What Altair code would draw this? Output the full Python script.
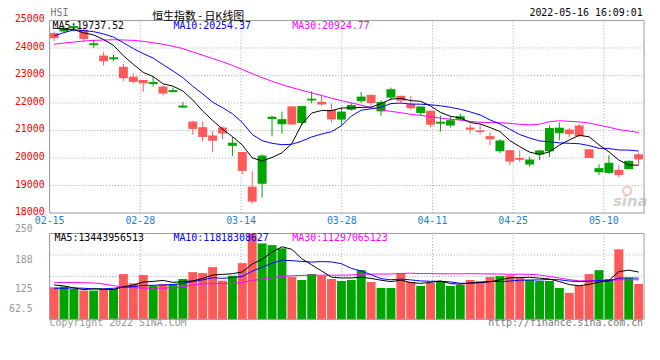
import altair as alt
import pandas as pd

# ---------------- data ----------------
dates = ["02-15","02-16","02-17","02-18","02-21","02-22","02-23","02-24","02-25","02-28",
         "03-01","03-02","03-03","03-04","03-07","03-08","03-09","03-10","03-11","03-14",
         "03-15","03-16","03-17","03-18","03-21","03-22","03-23","03-24","03-25","03-28",
         "03-29","03-30","03-31","04-01","04-04","04-06","04-07","04-08","04-11","04-12",
         "04-13","04-14","04-19","04-20","04-21","04-22","04-25","04-26","04-27","04-28",
         "04-29","05-03","05-04","05-05","05-06","05-10","05-11","05-12","05-13","05-16"]

opens = [24540,24600,24720,24660,24100,23724,23590,23316,22956,22836,
         22690,22596,22395,21835,21324,21120,20820,21108,20444,20220,
         18960,19064,21420,21228,21876,21276,22092,22044,21744,21396,
         21756,22068,22296,21696,22196,22260,21960,21636,21720,21250,
         21180,21396,21108,21000,20796,20244,20284,20004,19764,20124,
         20244,20904,21036,21180,20316,19484,19460,19572,19596,20136]
highs = [24600,24800,24900,24780,24300,23844,23760,23424,23076,22850,
         22980,22644,22560,22040,21360,21324,20976,21156,20760,20220,
         19520,20136,21540,21684,21880,21900,22428,22296,21984,21828,
         21996,22404,22300,22100,22560,22270,22260,21880,21730,21540,
         21516,21612,21228,21216,20940,20680,20290,20284,20040,20300,
         21180,21300,21084,21240,20320,19776,20100,19740,19910,20196]
lows = [24240,24560,24600,24240,24000,23364,23520,22800,22716,22404,
        22596,22284,22390,21820,20844,20604,20216,20676,20076,19406,
        18344,18564,20796,20888,21200,21200,21996,21900,21300,21180,
        21720,21996,21900,21540,22100,21996,21756,21540,21108,20964,
        21108,21348,20892,20856,20460,20184,19740,19860,19692,19920,
        20040,20640,20760,20760,20000,19376,19424,19296,19590,19740]
closes = [24355.71,24718.90,24792.77,24327.71,24170.07,23520.00,23660.18,22901.56,22767.18,22713.02,
          22761.71,22343.92,22467.38,21905.29,21057.62,20765.87,20627.71,20890.26,20553.79,19531.66,
          18415.08,20087.50,21501.23,21412.40,21221.34,21889.28,22154.08,21945.95,21404.88,21684.97,
          21927.63,22232.03,21996.85,22039.55,22502.31,22080.52,21808.98,21872.01,21208.30,21319.13,
          21374.37,21518.08,21027.76,20944.67,20682.22,20638.52,19869.34,19934.71,19946.36,20276.17,
          21089.39,21101.89,20869.52,20793.40,20001.96,19633.69,19824.57,19380.34,19898.77,19950.21]
volumes = [93.4,95.3,88.5,83.8,83.8,88.5,88.5,131.8,105.0,129.0,
           98.2,103.0,103.0,117.4,137.6,134.7,152.0,112.6,127.0,163.5,
           250.0,221.0,216.0,206.8,124.0,114.5,131.8,127.0,117.4,111.6,
           114.5,143.3,108.8,91.5,91.5,134.7,108.8,97.3,105.9,111.6,
           97.3,100.2,114.5,111.6,123.1,126.0,127.9,120.2,114.5,111.6,
           111.6,91.5,77.1,97.3,131.8,143.3,117.4,204.0,120.2,103.0]

ma5 = [24715,24692,24666,24550,24473,24306,24094,23716,23404,23112,
       22961,22698,22611,22438,22107,21708,21365,21049,20779,20474,
       20004,19896,20018,20190,20528,21222,21636,21725,21723,21816,
       21824,21839,21849,21976,22140,22170,22086,22061,21894,21658,
       21517,21458,21290,21237,21109,20962,20633,20414,20214,20133,
       20223,20470,20657,20826,20771,20480,20225,19927,19748,19738]
ma10 = [24441,24558,24657,24632,24591,24510,24393,24191,23977,23793,
        23633,23396,23163,22921,22610,22334,22031,21830,21609,21291,
        20856,20630,20534,20484,20501,20613,20766,20871,20956,21172,
        21523,21737,21787,21850,21978,21997,21962,21955,21935,21899,
        21843,21772,21675,21566,21384,21239,21045,20852,20726,20621,
        20593,20551,20535,20520,20452,20352,20347,20292,20287,20254]
ma30 = [24132,24180,24216,24252,24276,24288,24300,24288,24276,24240,
        24192,24132,24060,23976,23856,23736,23616,23496,23364,23220,
        23064,22920,22788,22668,22560,22464,22368,22272,22176,22085,
        22004,21921,21828,21752,21696,21648,21587,21552,21500,21454,
        21408,21380,21332,21300,21287,21283,21258,21226,21206,21231,
        21320,21354,21333,21312,21271,21196,21118,21033,20983,20925]

vma5 = [100.1,97.2,91.5,86.6,89.0,88.0,86.6,95.3,99.5,108.6,
        110.5,113.4,107.6,110.1,111.8,119.1,128.9,130.9,132.8,138.0,
        161.0,174.8,195.5,211.5,203.6,176.5,158.6,140.8,122.9,120.5,
        120.5,122.8,119.1,113.9,109.9,114.0,107.1,104.8,107.6,111.7,
        104.2,102.5,105.9,107.0,109.3,115.1,120.6,121.8,122.3,120.0,
        117.2,109.9,101.3,97.8,101.9,108.2,113.4,138.8,143.3,137.6]
vma10 = [90.5,90.5,91.5,90.5,88.5,88.5,90.5,93.4,95.3,98.8,
         99.2,100.0,101.5,104.8,110.2,114.8,121.2,119.3,121.5,124.9,
         140.1,151.9,163.2,172.1,170.8,168.7,166.7,168.2,167.2,162.0,
         148.5,140.7,130.0,118.4,115.2,117.2,114.9,111.9,110.8,110.8,
         109.1,104.8,105.3,107.3,110.5,109.6,111.5,113.8,114.7,114.7,
         116.1,115.3,111.5,110.1,111.0,112.7,111.6,120.0,120.6,119.7]
vma30 = [107.8,107.5,107.0,106.5,106.0,103.0,98.0,94.0,92.0,91.0,
         91.0,91.0,92.0,95.0,100.0,103.0,104.0,104.0,105.0,107.0,
         113.0,117.0,121.0,125.0,127.0,128.0,128.5,128.5,128.6,128.6,
         129.3,130.9,131.6,131.8,132.1,133.6,134.3,133.2,133.2,132.6,
         132.6,132.5,132.9,132.7,132.2,131.9,131.1,131.4,130.9,129.2,
         124.6,120.3,115.6,112.0,112.2,113.2,112.7,115.3,115.4,115.1]

price_ticks = [25000, 24000, 23000, 22000, 21000, 20000, 19000, 18000]
vol_tick_labels = ["250", "188", "125", "62.5"]
date_ticks = ["02-15", "02-28", "03-14", "03-28", "04-11", "04-25", "05-10"]

# ---------------- layout / style ----------------
W, H = 600, 302
PH = 194.4            # price panel height
VT, VB = 215.0, 301.7 # volume panel top / bottom
n = len(dates)
RED, GREEN = "#ff5a5a", "#00a400"
GRID = "#a8a8a8"
BORDER = "#9a9a9a"
MONO = "DejaVu Sans Mono"

df = pd.DataFrame({"i": list(range(n)), "date": dates, "open": opens, "high": highs,
                   "low": lows, "close": closes, "vol": volumes,
                   "ma5": ma5, "ma10": ma10, "ma30": ma30,
                   "vma5": vma5, "vma10": vma10, "vma30": vma30})
df["dir"] = ["up" if c >= o else "down" for o, c in zip(opens, closes)]

X = alt.Scale(domain=[-0.45, n - 0.45], nice=False, zero=False)
PY = alt.Scale(domain=[18000, 25000], range=[PH, 0], nice=False, zero=False)
VY = alt.Scale(domain=[0, 250], range=[VB, VT], nice=False, zero=False)
col = alt.Color("dir:N", scale=alt.Scale(domain=["up", "down"], range=[GREEN, RED]), legend=None)

base = alt.Chart(df)
xi = alt.X("i:Q", scale=X, axis=None)
boxed = base.transform_calculate(x0="datum.i - 0.45", x1="datum.i + 0.45")

grid_df = pd.DataFrame({"label": date_ticks,
                        "gx": [dates.index(d) * n / (n - 1) - 0.45 for d in date_ticks]})
gx = alt.X("gx:Q", scale=X, axis=None)
hgrid_df = pd.DataFrame({"v": price_ticks[1:-1]})
vgrid_df = pd.DataFrame({"v": [187.5, 125, 62.5]})
ptick_df = pd.DataFrame({"v": price_ticks, "t": [str(v) for v in price_ticks]})

layers = []
# grids
layers.append(alt.Chart(hgrid_df).mark_rule(color=GRID, strokeDash=[1, 2]).encode(
    y=alt.Y("v:Q", scale=PY, axis=None), x=alt.value(0), x2=alt.value(W)))
layers.append(alt.Chart(vgrid_df).mark_rule(color=GRID, strokeDash=[1, 2]).encode(
    y=alt.Y("v:Q", scale=VY, axis=None), x=alt.value(0), x2=alt.value(W)))
layers.append(alt.Chart(grid_df).mark_rule(color=GRID, strokeDash=[1, 2]).encode(
    x=gx, y=alt.YDatum(18000, scale=PY, axis=None), y2=alt.Y2Datum(25000)))
layers.append(alt.Chart(grid_df).mark_rule(color=GRID, strokeDash=[1, 2]).encode(
    x=gx, y=alt.YDatum(0, scale=VY, axis=None), y2=alt.Y2Datum(250)))


def label(text, x, y, color, align="left", size=10, font=MONO, baseline="middle", **kw):
    return alt.Chart(pd.DataFrame({"t": [text]})).mark_text(
        align=align, baseline=baseline, color=color, font=font, fontSize=size, **kw).encode(
        x=alt.value(x), y=alt.value(y), text="t:N")


# watermark (behind the data)
layers.append(alt.Chart(pd.DataFrame({"a": [0]})).mark_point(
    shape="circle", filled=False, color="#f3b0b0", strokeWidth=2, size=70).encode(
    x=alt.value(583), y=alt.value(172)))
layers.append(label("sina", 586, 182, "#cfcfcf", align="center", size=15,
                    font="DejaVu Sans", fontStyle="italic", fontWeight="bold"))

# candles
layers.append(base.mark_rule(strokeWidth=1).encode(
    x=xi, y=alt.Y("low:Q", scale=PY, axis=None), y2="high:Q", color=col))
layers.append(boxed.mark_rect().encode(
    x=alt.X("x0:Q", scale=X, axis=None), x2="x1:Q",
    y=alt.Y("open:Q", scale=PY, axis=None), y2="close:Q", color=col))
# price MAs
for fld, c in [("ma30", "#ff00ff"), ("ma10", "#0000ff"), ("ma5", "#000000")]:
    layers.append(base.mark_line(color=c, strokeWidth=1).encode(
        x=xi, y=alt.Y(f"{fld}:Q", scale=PY, axis=None)))

# volume bars + MAs
layers.append(boxed.mark_rect().encode(
    x=alt.X("x0:Q", scale=X, axis=None), x2="x1:Q",
    y=alt.Y("vol:Q", scale=VY, axis=None), y2=alt.Y2Datum(0), color=col))
for fld, c in [("vma30", "#ff00ff"), ("vma10", "#0000ff"), ("vma5", "#000000")]:
    layers.append(base.mark_line(color=c, strokeWidth=1).encode(
        x=xi, y=alt.Y(f"{fld}:Q", scale=VY, axis=None)))

# borders
for sc, lo, hi in [(PY, 18000, 25000), (VY, 0, 250)]:
    layers.append(alt.Chart(pd.DataFrame({"a": [0]})).mark_rect(
        filled=False, stroke=BORDER, strokeWidth=1).encode(
        x=alt.XDatum(-0.45, scale=X, axis=None), x2=alt.X2Datum(n - 0.45),
        y=alt.YDatum(lo, scale=sc, axis=None), y2=alt.Y2Datum(hi)))

# axis labels
layers.append(alt.Chart(ptick_df).mark_text(
    align="right", baseline="middle", dx=-5, dy=-1, font=MONO, fontSize=10, color="#ff0000").encode(
    y=alt.Y("v:Q", scale=PY, axis=None), x=alt.value(0), text="t:N"))
layers.append(alt.Chart(grid_df).mark_text(
    baseline="middle", dy=8, font=MONO, fontSize=10, color="#1a7fe0").encode(
    x=gx, y=alt.YDatum(18000, scale=PY, axis=None), text="label:N"))

for t, y in zip(vol_tick_labels, [211, 242, 271.5, 291.5]):
    layers.append(label(t, -17, y, "#999999", align="right"))

# legends
layers.append(label("MA5:19737.52", 3, 5.5, "#000000"))
layers.append(label("MA10:20254.37", 125, 5.5, "#0000ff"))
layers.append(label("MA30:20924.77", 245, 5.5, "#ff00ff"))
layers.append(label("MA5:13443956513", 5, 219.5, "#000000"))
layers.append(label("MA10:11818308627", 125, 219.5, "#0000ff"))
layers.append(label("MA30:11297065123", 245, 219.5, "#ff00ff"))

# header / footer
layers.append(label("HSI", 1, -7, "#777777"))
layers.append(label("恒生指数 - 日K线图", 150, -0.4, "#000000", align="center", size=11,
                    font="Noto Sans CJK SC", baseline="alphabetic"))
layers.append(label("2022-05-16 16:09:01", 598.5, -7.5, "#000000", align="right"))
layers.append(label("Copyright 2022 SINA.COM", 0, 305, "#999999"))
layers.append(label("http://finance.sina.com.cn", 599, 305, "#777777", align="right"))

chart = alt.layer(*layers).resolve_scale(y="independent").properties(
    width=W, height=H,
    autosize=alt.AutoSizeParams(type="none"),
    padding={"left": 42, "top": 11, "right": 8, "bottom": 22},
).configure_view(stroke=None)

chart.save("out.html", embed_options={"renderer": "svg", "actions": False})
